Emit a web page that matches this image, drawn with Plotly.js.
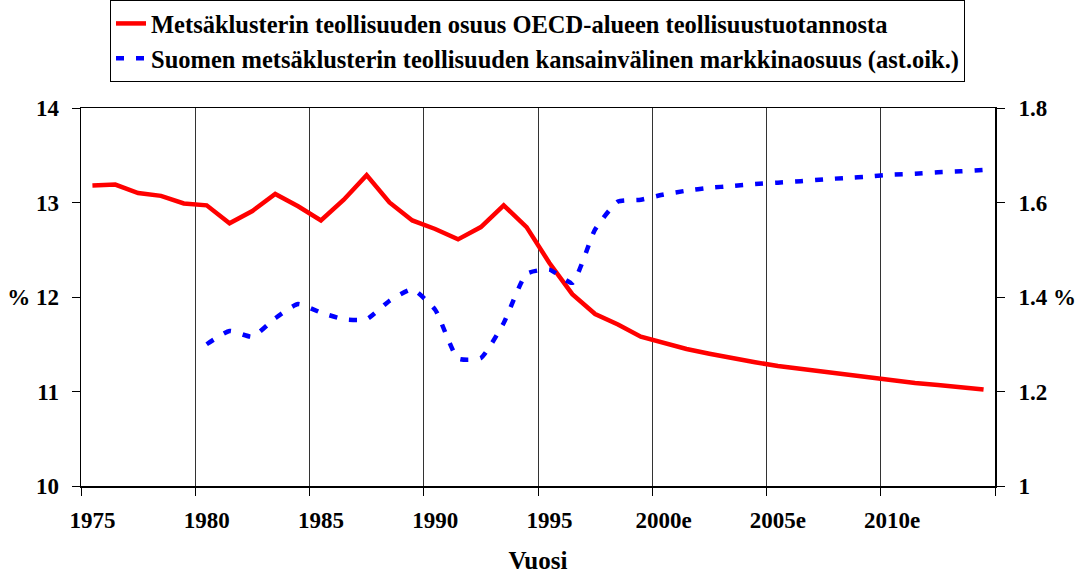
<!DOCTYPE html>
<html>
<head>
<meta charset="utf-8">
<script src="https://cdn.plot.ly/plotly-3.0.1.min.js"></script>
<style>html,body{margin:0;padding:0;background:#fff;}#chart{width:1075px;height:574px;}</style>
</head>
<body>
<div id="chart"></div>
<script>
const years = [];
for (let y = 1975; y <= 2014; y++) years.push(y);
const blueYears = years.filter(y => y >= 1980);

const redName = "Metsäklusterin teollisuuden osuus OECD-alueen teollisuustuotannosta";
const blueName = "Suomen metsäklusterin teollisuuden kansainvälinen markkinaosuus (ast.oik.)";

const redValues = [13.18, 13.19, 13.10, 13.07, 12.99, 12.97, 12.78, 12.91, 13.09, 12.96,
  12.81, 13.03, 13.29, 13.00, 12.81, 12.72, 12.61, 12.74, 12.97, 12.74,
  12.36, 12.03, 11.82, 11.71, 11.58, 11.51, 11.45, 11.40, 11.35, 11.31,
  11.27, 11.24, 11.20, 11.17, 11.14, 11.12, 11.09, 11.07, 11.05, 11.02];

const blueValues = [1.300, 1.328, 1.316, 1.355, 1.385, 1.367, 1.353, 1.353, 1.392, 1.416,
  1.373, 1.270, 1.271, 1.345, 1.449, 1.458, 1.430, 1.543, 1.602, 1.606,
  1.617, 1.625, 1.631, 1.635, 1.639, 1.642, 1.645, 1.649, 1.652, 1.655,
  1.659, 1.661, 1.664, 1.666, 1.669];

const xTickVals = [1975, 1980, 1985, 1990, 1995, 2000, 2005, 2010];
const xTickText = ["1975", "1980", "1985", "1990", "1995", "2000e", "2005e", "2010e"];
const yLeftVals = [10, 11, 12, 13, 14];
const yLeftText = ["10", "11", "% 12", "13", "14"];
const yRightVals = [1, 1.2, 1.4, 1.6, 1.8];
const yRightText = ["1", "1.2", "1.4 %", "1.6", "1.8"];

const FONT = "Liberation Serif, Times New Roman, serif";

const traces = [
  {
    x: years, y: redValues, name: redName, type: "scatter", mode: "lines",
    line: {color: "#ff0000", width: 4.5}, legendgroup: "a", yaxis: "y"
  },
  {
    x: blueYears, y: blueValues, name: blueName, type: "scatter", mode: "lines",
    line: {color: "#0000ff", width: 4.5, dash: "8px,12px", shape: "spline", smoothing: 0.5},
    legendgroup: "b", yaxis: "y2"
  }
];

const tickFont = {family: FONT, size: 23, color: "#000", weight: "bold"};

const layout = {
  width: 1075, height: 574,
  margin: {l: 81, r: 80, t: 108, b: 88, autoexpand: false},
  paper_bgcolor: "#fff", plot_bgcolor: "#fff",
  font: {family: FONT, size: 23, color: "#000", weight: "bold"},
  showlegend: true,
  legend: {
    xref: "container", yref: "container",
    x: 0.5, xanchor: "center", y: 1.0, yanchor: "top",
    bordercolor: "#000", borderwidth: 1, bgcolor: "#fff",
    font: {family: FONT, size: 24.5, color: "#000", weight: "bold"},
    traceorder: "grouped", tracegroupgap: 0
  },
  xaxis: {
    range: [1974.5, 2014.5],
    tickvals: xTickVals, ticktext: xTickText,
    ticks: "outside", ticklen: 13, tickcolor: "rgba(0,0,0,0)",
    showgrid: false, zeroline: false,
    showline: true, linecolor: "#000", linewidth: 1.5, mirror: true,
    tickfont: tickFont,
    minor: {tick0: 1974.5, dtick: 5, ticks: "outside", ticklen: 8, tickcolor: "#000", tickwidth: 1,
      showgrid: true, gridcolor: "#333", gridwidth: 1},
    title: {text: "Vuosi", font: {family: FONT, size: 25, color: "#000", weight: "bold"}, standoff: 21}
  },
  yaxis: {
    range: [10, 14],
    tickvals: yLeftVals, ticktext: yLeftText,
    ticks: "outside", ticklen: 8, tickcolor: "#000",
    showgrid: false, zeroline: false,
    showline: true, linecolor: "#000", linewidth: 1.5,
    ticklabelstandoff: 8,
    tickfont: tickFont
  },
  yaxis2: {
    range: [1, 1.8], overlaying: "y", side: "right",
    tickvals: yRightVals, ticktext: yRightText,
    ticks: "outside", ticklen: 8, tickcolor: "#000",
    showgrid: false, zeroline: false,
    showline: true, linecolor: "#000", linewidth: 2,
    ticklabelstandoff: 9,
    tickfont: tickFont
  }
};

Plotly.newPlot("chart", traces, layout, {displayModeBar: false, staticPlot: true});
</script>
</body>
</html>
